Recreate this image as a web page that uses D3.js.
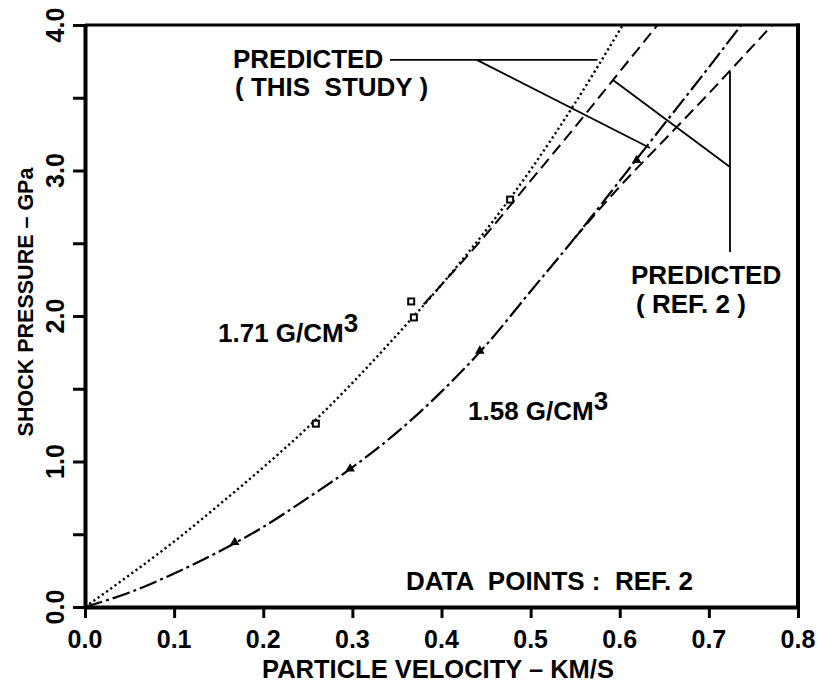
<!DOCTYPE html>
<html><head><meta charset="utf-8">
<script src="https://cdn.jsdelivr.net/npm/d3@7"></script>
<style>
body{margin:0;background:#fff}
text{font-family:"Liberation Sans",Arial,Helvetica,sans-serif;font-weight:bold;fill:#000;white-space:pre}
</style>
</head><body>
<svg id="chart" width="819" height="685"></svg>
<script>
// ---- tick values / labels ----
const xTickValues = [0, 0.1, 0.2, 0.3, 0.4, 0.5, 0.6, 0.7, 0.8];
const xTickLabels = ["0.0", "0.1", "0.2", "0.3", "0.4", "0.5", "0.6", "0.7", "0.8"];
const yTickValues = [0, 1, 2, 3, 4];
const yTickLabels = ["0.0", "1.0", "2.0", "3.0", "4.0"];
const yMinorTicks = [0.5, 1.5, 2.5, 3.5];

// ---- predicted curves (particle velocity km/s, shock pressure GPa) ----
// 1.71 g/cm3, this study (dotted)
const uThis171 = [0, 0.05, 0.1, 0.15, 0.2, 0.25, 0.3, 0.35, 0.4, 0.45, 0.5, 0.55, 0.6, 0.62];
const pThis171 = [0, 0.22, 0.45, 0.70, 0.96, 1.235, 1.54, 1.87, 2.215, 2.59, 3.005, 3.465, 3.965, 4.17];
// 1.71 g/cm3, Ref. 2 (dashed; coincides with dotted below ~0.38)
const uRef171 = [0.38, 0.4, 0.45, 0.5, 0.55, 0.6, 0.65, 0.66];
const pRef171 = [2.08, 2.215, 2.56, 2.93, 3.30, 3.68, 4.06, 4.14];
// 1.58 g/cm3, this study (dash-dot)
const uThis158 = [0, 0.05, 0.1, 0.15, 0.2, 0.25, 0.3, 0.35, 0.4, 0.45, 0.5, 0.55, 0.6, 0.65, 0.7, 0.75];
const pThis158 = [0, 0.10, 0.23, 0.38, 0.55, 0.75, 0.96, 1.20, 1.48, 1.80, 2.17, 2.54, 2.93, 3.32, 3.71, 4.11];
// 1.58 g/cm3, Ref. 2 (dashed; coincides with dash-dot below ~0.55)
const uRef158 = [0.55, 0.6, 0.65, 0.7, 0.75, 0.8];
const pRef158 = [2.54, 2.89, 3.21, 3.53, 3.86, 4.19];

// ---- data points (Ref. 2) ----
const uPts171 = [0.259, 0.366, 0.369, 0.477];
const pPts171 = [1.26, 2.10, 1.99, 2.80];
const uPts158 = [0.168, 0.2975, 0.443, 0.619];
const pPts158 = [0.445, 0.95, 1.76, 3.07];

const svg = d3.select("#chart");
const x = d3.scaleLinear().domain([0, 0.8]).range([85, 798]);
const y = d3.scaleLinear().domain([0, 4]).range([607, 25]);

svg.append("clipPath").attr("id", "clip").append("rect")
  .attr("x", x(0)).attr("y", y(4)).attr("width", x(0.8) - x(0)).attr("height", y(0) - y(4));

// axes
const xAxis = d3.axisBottom(x).tickValues(xTickValues).tickSize(11).tickSizeOuter(0).tickFormat("");
const gx = svg.append("g").attr("transform", `translate(0,${y(0)})`).call(xAxis);
gx.select(".domain").attr("stroke-width", 4).attr("stroke", "#000");
gx.selectAll(".tick line").attr("stroke-width", 3).attr("stroke", "#000");

const yAxis = d3.axisLeft(y).tickValues(yTickValues.concat(yMinorTicks)).tickSize(12).tickSizeOuter(0).tickFormat("");
const gy = svg.append("g").attr("transform", `translate(${x(0)},0)`).call(yAxis);
gy.select(".domain").attr("stroke-width", 4).attr("stroke", "#000");
gy.selectAll(".tick line").attr("stroke-width", 3).attr("stroke", "#000");

svg.append("line").attr("x1", x(0)).attr("x2", x(0.8) + 2).attr("y1", y(4)).attr("y2", y(4))
  .attr("stroke", "#000").attr("stroke-width", 3);
svg.append("line").attr("x1", x(0.8)).attr("x2", x(0.8)).attr("y1", y(4) - 1.5).attr("y2", y(0))
  .attr("stroke", "#000").attr("stroke-width", 4);

// tick labels
svg.append("g").selectAll("text").data(xTickValues).join("text")
  .attr("x", d => x(d)).attr("y", 648).attr("text-anchor", "middle")
  .attr("font-size", 25).text((d, i) => xTickLabels[i]);
svg.append("g").selectAll("text").data(yTickValues).join("text")
  .attr("transform", d => `translate(64,${y(d)}) rotate(-90)`).attr("text-anchor", "middle")
  .attr("font-size", 25).text((d, i) => yTickLabels[i]);

// axis titles
svg.append("text").attr("x", 438).attr("y", 678).attr("text-anchor", "middle")
  .attr("font-size", 25.5).text("PARTICLE VELOCITY – KM/S");
svg.append("text").attr("transform", `translate(33,302) rotate(-90)`).attr("text-anchor", "middle")
  .attr("font-size", 21.5).text("SHOCK PRESSURE – GPa");

// curves
const line = d3.line().x(d => x(d[0])).y(d => y(d[1])).curve(d3.curveMonotoneX);
const plot = svg.append("g").attr("clip-path", "url(#clip)");
function curve(us, ps, dash, w) {
  plot.append("path").datum(us.map((u, i) => [u, ps[i]]))
    .attr("d", line).attr("fill", "none").attr("stroke", "#000")
    .attr("stroke-width", w).attr("stroke-dasharray", dash);
}
curve(uRef171, pRef171, "12,6", 2);
curve(uThis171, pThis171, "2.2,3", 2.4);
curve(uRef158, pRef158, "12,6", 2);
curve(uThis158, pThis158, "18,4,3,4", 2.2);

// data markers
svg.append("g").selectAll("rect").data(uPts171.map((u, i) => [u, pPts171[i]])).join("rect")
  .attr("x", d => x(d[0]) - 3).attr("y", d => y(d[1]) - 3).attr("width", 6).attr("height", 6)
  .attr("fill", "#fff").attr("stroke", "#000").attr("stroke-width", 2);
svg.append("g").selectAll("path").data(uPts158.map((u, i) => [u, pPts158[i]])).join("path")
  .attr("d", d3.symbol().type(d3.symbolTriangle).size(40))
  .attr("transform", d => `translate(${x(d[0])},${y(d[1])})`).attr("fill", "#000");

// leader lines
const lead = svg.append("g").attr("stroke", "#000").attr("stroke-width", 1.8).attr("fill", "none");
lead.append("line").attr("x1", 390).attr("y1", y(3.76)).attr("x2", x(0.575)).attr("y2", y(3.76));
lead.append("line").attr("x1", x(0.4395)).attr("y1", y(3.76)).attr("x2", x(0.634)).attr("y2", y(3.155));
lead.append("line").attr("x1", x(0.5924)).attr("y1", y(3.622)).attr("x2", x(0.7237)).attr("y2", y(3.024));
lead.append("line").attr("x1", x(0.7237)).attr("y1", y(3.68)).attr("x2", x(0.7237)).attr("y2", y(2.44));

// annotation texts
const ann = svg.append("g").attr("font-size", 26);
ann.append("text").attr("x", 233).attr("y", 68).text("PREDICTED");
ann.append("text").attr("x", 235).attr("y", 96).text("( THIS  STUDY )");
ann.append("text").attr("x", 631).attr("y", 284).text("PREDICTED");
ann.append("text").attr("x", 636).attr("y", 313).text("( REF. 2 )");
const t1 = ann.append("text").attr("x", 218).attr("y", 342);
t1.append("tspan").text("1.71 G/CM");
t1.append("tspan").attr("dy", -10).text("3");
const t2 = ann.append("text").attr("x", 468).attr("y", 420);
t2.append("tspan").text("1.58 G/CM");
t2.append("tspan").attr("dy", -10).text("3");
ann.append("text").attr("x", 406).attr("y", 590).text("DATA  POINTS :  REF. 2");
</script>
</body></html>
